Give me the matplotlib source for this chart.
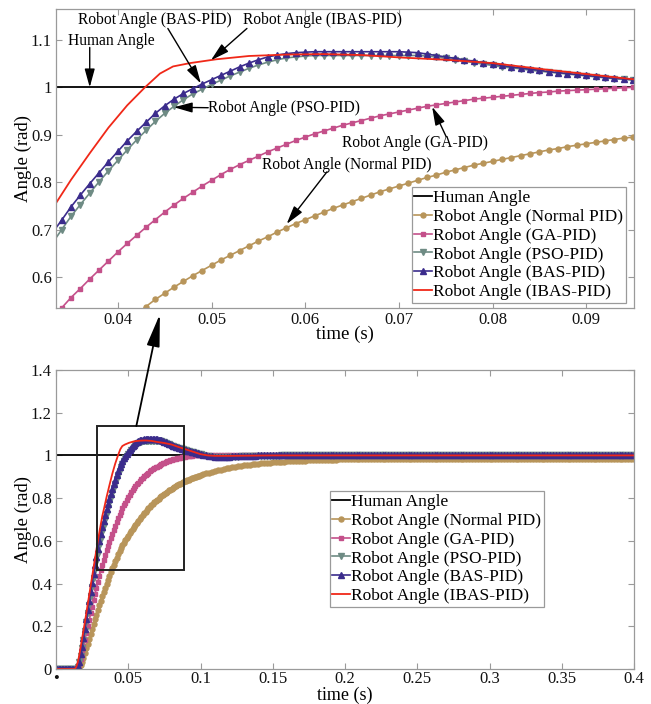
import numpy as np
import matplotlib
matplotlib.use("Agg")
import matplotlib.pyplot as plt
from matplotlib.patches import Rectangle, ConnectionPatch

plt.rcParams['font.family'] = ['Liberation Serif', 'DejaVu Serif']
plt.rcParams['mathtext.fontset'] = 'stix'

# ---------------- data ----------------
# sample grid: 1 ms up to 0.1 s, 2 ms afterwards
time = np.round(np.concatenate([np.arange(0, 101) * 0.001, 0.102 + np.arange(150) * 0.002]), 3)

human_t = [0.0, 0.4]
human_y = [1.0, 1.0]

normal_pid = [
    0, 0, 0, 0, 0, 0, 0, 0, 0, 0,
    0, 0, 0, 0, 0, 0, 0.006, 0.018, 0.034, 0.053,
    0.074, 0.096, 0.119, 0.142, 0.165, 0.188, 0.211, 0.233, 0.255, 0.277,
    0.298, 0.319, 0.340, 0.360, 0.380, 0.399, 0.418, 0.437, 0.455, 0.472,
    0.489, 0.506, 0.522, 0.538, 0.553, 0.566, 0.579, 0.591, 0.603, 0.614,
    0.625, 0.636, 0.646, 0.656, 0.666, 0.676, 0.685, 0.695, 0.704, 0.713,
    0.721, 0.729, 0.737, 0.745, 0.752, 0.759, 0.766, 0.773, 0.780, 0.786,
    0.792, 0.798, 0.804, 0.810, 0.815, 0.821, 0.826, 0.831, 0.836, 0.840,
    0.844, 0.848, 0.852, 0.856, 0.860, 0.864, 0.868, 0.871, 0.875, 0.878,
    0.881, 0.884, 0.887, 0.890, 0.893, 0.895, 0.898, 0.900, 0.903, 0.905,
    0.907,
    0.912, 0.916, 0.920, 0.924, 0.927, 0.931, 0.934, 0.937, 0.940, 0.942,
    0.945, 0.947, 0.949, 0.951, 0.953, 0.955, 0.957, 0.958, 0.960, 0.961,
    0.963, 0.964, 0.965, 0.966, 0.968, 0.969, 0.970, 0.970, 0.971, 0.972,
    0.973, 0.974, 0.974, 0.975, 0.975, 0.976, 0.977, 0.977, 0.978, 0.978,
    0.978, 0.979, 0.979, 0.979, 0.980, 0.980, 0.980, 0.981, 0.981, 0.981,
    0.981, 0.981, 0.982, 0.982, 0.982, 0.982, 0.982, 0.983, 0.983, 0.983,
    0.983, 0.983, 0.983, 0.983, 0.984, 0.984, 0.984, 0.984, 0.984, 0.984,
    0.984, 0.984, 0.984, 0.984, 0.984, 0.984, 0.984, 0.984, 0.984, 0.984,
    0.984, 0.984, 0.984, 0.984, 0.984, 0.984, 0.984, 0.984, 0.984, 0.984,
    0.985, 0.985, 0.985, 0.985, 0.985, 0.985, 0.985, 0.985, 0.985, 0.985,
    0.985, 0.985, 0.985, 0.985, 0.985, 0.985, 0.985, 0.985, 0.985, 0.985,
    0.985, 0.985, 0.985, 0.985, 0.985, 0.985, 0.985, 0.985, 0.985, 0.985,
    0.985, 0.985, 0.985, 0.985, 0.985, 0.985, 0.985, 0.985, 0.985, 0.985,
    0.985, 0.985, 0.985, 0.985, 0.985, 0.985, 0.985, 0.985, 0.985, 0.985,
    0.985, 0.985, 0.985, 0.985, 0.985, 0.985, 0.985, 0.985, 0.985, 0.985,
]

ga_pid = [
    0, 0, 0, 0, 0, 0, 0, 0, 0, 0,
    0, 0, 0, 0, 0, 0.008, 0.025, 0.049, 0.077, 0.107,
    0.138, 0.169, 0.200, 0.231, 0.262, 0.292, 0.322, 0.352, 0.381, 0.409,
    0.437, 0.463, 0.488, 0.512, 0.535, 0.557, 0.576, 0.596, 0.615, 0.634,
    0.653, 0.671, 0.688, 0.705, 0.721, 0.737, 0.752, 0.766, 0.779, 0.792,
    0.804, 0.816, 0.827, 0.837, 0.846, 0.855, 0.864, 0.872, 0.880, 0.888,
    0.895, 0.902, 0.908, 0.914, 0.920, 0.925, 0.930, 0.935, 0.940, 0.944,
    0.948, 0.952, 0.956, 0.960, 0.963, 0.966, 0.969, 0.972, 0.975, 0.977,
    0.979, 0.981, 0.983, 0.985, 0.987, 0.989, 0.990, 0.992, 0.993, 0.994,
    0.995, 0.996, 0.997, 0.998, 0.999, 1.000, 1.001, 1.001, 1.002, 1.002,
    1.003,
    1.003, 1.003, 1.003, 1.003, 1.003, 1.003, 1.003, 1.003, 1.003, 1.003,
    1.003, 1.003, 1.003, 1.003, 1.003, 1.003, 1.003, 1.003, 1.003, 1.003,
    1.003, 1.003, 1.003, 1.003, 1.003, 1.003, 1.003, 1.003, 1.003, 1.003,
    1.003, 1.003, 1.003, 1.003, 1.003, 1.003, 1.003, 1.003, 1.003, 1.003,
    1.003, 1.003, 1.003, 1.003, 1.003, 1.003, 1.003, 1.003, 1.003, 1.003,
    1.002, 1.002, 1.002, 1.002, 1.002, 1.002, 1.002, 1.002, 1.002, 1.002,
    1.002, 1.002, 1.002, 1.002, 1.002, 1.002, 1.002, 1.002, 1.002, 1.002,
    1.002, 1.002, 1.002, 1.002, 1.002, 1.002, 1.002, 1.002, 1.002, 1.002,
    1.002, 1.002, 1.002, 1.002, 1.002, 1.002, 1.002, 1.002, 1.002, 1.002,
    1.002, 1.002, 1.002, 1.002, 1.002, 1.002, 1.002, 1.002, 1.002, 1.002,
    1.002, 1.002, 1.002, 1.002, 1.002, 1.002, 1.002, 1.002, 1.002, 1.002,
    1.002, 1.002, 1.002, 1.002, 1.002, 1.002, 1.002, 1.002, 1.002, 1.002,
    1.002, 1.002, 1.002, 1.002, 1.002, 1.002, 1.002, 1.002, 1.002, 1.002,
    1.002, 1.002, 1.002, 1.002, 1.002, 1.002, 1.002, 1.002, 1.002, 1.002,
    1.002, 1.002, 1.002, 1.002, 1.002, 1.002, 1.002, 1.002, 1.002, 1.002,
]

pso_pid = [
    0, 0, 0, 0, 0, 0, 0, 0, 0, 0,
    0, 0, 0, 0, 0, 0.010, 0.031, 0.061, 0.096, 0.135,
    0.176, 0.218, 0.260, 0.302, 0.344, 0.385, 0.425, 0.464, 0.502, 0.539,
    0.574, 0.608, 0.640, 0.671, 0.700, 0.728, 0.753, 0.777, 0.801, 0.824,
    0.846, 0.868, 0.889, 0.909, 0.928, 0.945, 0.960, 0.974, 0.986, 0.996,
    1.006, 1.015, 1.024, 1.032, 1.040, 1.047, 1.053, 1.058, 1.062, 1.064,
    1.066, 1.067, 1.067, 1.067, 1.067, 1.067, 1.067, 1.067, 1.067, 1.067,
    1.067, 1.067, 1.067, 1.066, 1.064, 1.061, 1.058, 1.055, 1.052, 1.049,
    1.046, 1.043, 1.041, 1.039, 1.036, 1.034, 1.032, 1.030, 1.028, 1.026,
    1.024, 1.022, 1.020, 1.018, 1.017, 1.015, 1.013, 1.011, 1.009, 1.007,
    1.005,
    1.002, 0.999, 0.996, 0.994, 0.992, 0.991, 0.991, 0.991, 0.991, 0.992,
    0.992, 0.993, 0.994, 0.995, 0.995, 0.996, 0.997, 0.997, 0.998, 0.998,
    0.998, 0.999, 0.999, 0.999, 0.999, 0.999, 0.999, 1.0, 1.0, 1.0,
    1.0, 1.0, 1.0, 1.0, 1.0, 1.0, 1.0, 1.0, 1.0, 1.0,
    1.0, 1.0, 1.0, 1.0, 1.0, 1.0, 1.0, 1.0, 1.0, 1.0,
    1.0, 1.0, 1.0, 1.0, 1.0, 1.0, 1.0, 1.0, 1.0, 1.0,
    1.0, 1.0, 1.0, 1.0, 1.0, 1.0, 1.0, 1.0, 1.0, 1.0,
    1.0, 1.0, 1.0, 1.0, 1.0, 1.0, 1.0, 1.0, 1.0, 1.0,
    1.0, 1.0, 1.0, 1.0, 1.0, 1.0, 1.0, 1.0, 1.0, 1.0,
    1.0, 1.0, 1.0, 1.0, 1.0, 1.0, 1.0, 1.0, 1.0, 1.0,
    1.0, 1.0, 1.0, 1.0, 1.0, 1.0, 1.0, 1.0, 1.0, 1.0,
    1.0, 1.0, 1.0, 1.0, 1.0, 1.0, 1.0, 1.0, 1.0, 1.0,
    1.0, 1.0, 1.0, 1.0, 1.0, 1.0, 1.0, 1.0, 1.0, 1.0,
    1.0, 1.0, 1.0, 1.0, 1.0, 1.0, 1.0, 1.0, 1.0, 1.0,
    1.0, 1.0, 1.0, 1.0, 1.0, 1.0, 1.0, 1.0, 1.0, 1.0,
]

bas_pid = [
    0, 0, 0, 0, 0, 0, 0, 0, 0, 0,
    0, 0, 0, 0, 0, 0.012, 0.035, 0.068, 0.105, 0.146,
    0.189, 0.232, 0.275, 0.318, 0.361, 0.403, 0.445, 0.486, 0.525, 0.562,
    0.597, 0.631, 0.663, 0.693, 0.720, 0.748, 0.773, 0.797, 0.820, 0.843,
    0.865, 0.887, 0.907, 0.926, 0.945, 0.961, 0.975, 0.987, 0.997, 1.007,
    1.016, 1.025, 1.034, 1.043, 1.051, 1.058, 1.064, 1.068, 1.071, 1.073,
    1.074, 1.075, 1.075, 1.075, 1.075, 1.075, 1.075, 1.075, 1.075, 1.075,
    1.075, 1.074, 1.073, 1.070, 1.067, 1.064, 1.061, 1.058, 1.055, 1.052,
    1.049, 1.046, 1.043, 1.041, 1.038, 1.036, 1.033, 1.031, 1.029, 1.027,
    1.025, 1.023, 1.021, 1.019, 1.018, 1.016, 1.014, 1.012, 1.010, 1.008,
    1.006,
    1.003, 1.000, 0.997, 0.995, 0.994, 0.993, 0.993, 0.993, 0.994, 0.994,
    0.995, 0.996, 0.996, 0.997, 0.998, 0.998, 0.999, 0.999, 0.999, 1.000,
    1.0, 1.0, 1.0, 1.0, 1.0, 1.0, 1.0, 1.0, 1.0, 1.0,
    1.0, 1.0, 1.0, 1.0, 1.0, 1.0, 1.0, 1.0, 1.0, 1.0,
    1.0, 1.0, 1.0, 1.0, 1.0, 1.0, 1.0, 1.0, 1.0, 1.0,
    1.0, 1.0, 1.0, 1.0, 1.0, 1.0, 1.0, 1.0, 1.0, 1.0,
    1.0, 1.0, 1.0, 1.0, 1.0, 1.0, 1.0, 1.0, 1.0, 1.0,
    1.0, 1.0, 1.0, 1.0, 1.0, 1.0, 1.0, 1.0, 1.0, 1.0,
    1.0, 1.0, 1.0, 1.0, 1.0, 1.0, 1.0, 1.0, 1.0, 1.0,
    1.0, 1.0, 1.0, 1.0, 1.0, 1.0, 1.0, 1.0, 1.0, 1.0,
    1.0, 1.0, 1.0, 1.0, 1.0, 1.0, 1.0, 1.0, 1.0, 1.0,
    1.0, 1.0, 1.0, 1.0, 1.0, 1.0, 1.0, 1.0, 1.0, 1.0,
    1.0, 1.0, 1.0, 1.0, 1.0, 1.0, 1.0, 1.0, 1.0, 1.0,
    1.0, 1.0, 1.0, 1.0, 1.0, 1.0, 1.0, 1.0, 1.0, 1.0,
    1.0, 1.0, 1.0, 1.0, 1.0, 1.0, 1.0, 1.0, 1.0, 1.0,
]

ibas_t = [0, 0.013, 0.014, 0.015, 0.016, 0.017, 0.018, 0.019, 0.020, 0.022,
          0.024, 0.026, 0.028, 0.030, 0.032, 0.0334, 0.035, 0.037, 0.039, 0.041,
          0.0429, 0.0445, 0.0459, 0.0477, 0.0505, 0.054, 0.058, 0.062, 0.066, 0.070,
          0.075, 0.080, 0.085, 0.090, 0.095, 0.100, 0.105, 0.110, 0.120, 0.150, 0.400]
ibas_pid = [0, 0, 0.01, 0.03, 0.06, 0.10, 0.14, 0.18, 0.22, 0.305,
            0.39, 0.475, 0.56, 0.64, 0.715, 0.756, 0.805, 0.861, 0.915, 0.962,
            1.0, 1.029, 1.044, 1.051, 1.059, 1.066, 1.069, 1.070, 1.068, 1.063,
            1.058, 1.051, 1.039, 1.028, 1.017, 1.006, 1.0, 0.998, 0.998, 1.0, 1.0]

labels = ['Human Angle', 'Robot Angle (Normal PID)', 'Robot Angle (GA-PID)',
          'Robot Angle (PSO-PID)', 'Robot Angle (BAS-PID)', 'Robot Angle (IBAS-PID)']

for name, arr in [('normal', normal_pid), ('ga', ga_pid), ('pso', pso_pid), ('bas', bas_pid)]:
    if len(arr) != len(time):
        raise SystemExit(f'{name}: {len(arr)} vs {len(time)}')

# ---------------- style ----------------
c_human = '#000000'
c_normal = '#B8955A'
c_ga = '#C4508A'
c_pso = '#6E8B84'
c_bas = '#3B2C8C'
c_ibas = '#F02818'
spine_c = '#9a9a9a'

W, H = 651, 704
fig = plt.figure(figsize=(W / 100, H / 100), dpi=100)
ax1 = fig.add_axes([56 / W, (H - 308) / H, 578 / W, 299 / H])
ax2 = fig.add_axes([56 / W, (H - 669) / H, 578 / W, 299 / H])


def draw(ax, xpad, xtickpad, xlab_fs):
    ax.plot(human_t, human_y, color=c_human, lw=1.3, label=labels[0])
    ax.plot(time, normal_pid, color=c_normal, lw=1.2, marker='o', ms=3.6, mec=c_normal, label=labels[1])
    ax.plot(time, ga_pid, color=c_ga, lw=1.2, marker='s', ms=3.4, mec=c_ga, label=labels[2])
    ax.plot(time, pso_pid, color=c_pso, lw=1.2, marker='v', ms=4.3, mec=c_pso, label=labels[3])
    ax.plot(time, bas_pid, color=c_bas, lw=1.2, marker='^', ms=4.3, mec=c_bas, label=labels[4])
    ax.plot(ibas_t, ibas_pid, color=c_ibas, lw=1.3, label=labels[5])
    for s in ax.spines.values():
        s.set_color(spine_c)
        s.set_linewidth(0.9)
    ax.tick_params(direction='in', top=True, right=True, length=4, color=spine_c,
                   labelsize=12, pad=3, labelcolor='#111111')
    ax.tick_params(axis='x', pad=xtickpad)
    ax.set_ylabel('Angle (rad)', fontsize=13.5, labelpad=-1)
    ax.set_xlabel('time (s)', fontsize=xlab_fs, labelpad=xpad)


draw(ax1, -2, 3, 13.5)
draw(ax2, -0.3, 1.5, 13)

ax1.set_xlim(0.0334, 0.0951)
ax1.set_ylim(0.535, 1.165)
ax1.set_xticks([0.04, 0.05, 0.06, 0.07, 0.08, 0.09])
ax1.set_xticklabels(['0.04', '0.05', '0.06', '0.07', '0.08', '0.09'])
ax1.set_yticks([0.6, 0.7, 0.8, 0.9, 1.0, 1.1])
ax1.set_yticklabels(['0.6', '0.7', '0.8', '0.9', '1', '1.1'])

ax2.set_xlim(0, 0.4)
ax2.set_ylim(0, 1.4)
ax2.set_xticks([0, 0.05, 0.1, 0.15, 0.2, 0.25, 0.3, 0.35, 0.4])
ax2.set_xticklabels(['\u2022', '0.05', '0.1', '0.15', '0.2', '0.25', '0.3', '0.35', '0.4'])
ax2.set_yticks([0, 0.2, 0.4, 0.6, 0.8, 1.0, 1.2, 1.4])
ax2.set_yticklabels(['0', '0.2', '0.4', '0.6', '0.8', '1', '1.2', '1.4'])

leg_kw = dict(fontsize=12.5, handlelength=1.0, handletextpad=0.1, labelspacing=0.16,
              borderpad=0.15, borderaxespad=0, fancybox=False, framealpha=1,
              edgecolor='#9a9a9a', numpoints=1, loc='lower right')
l1 = ax1.legend(bbox_to_anchor=(626 / W, (H - 303) / H), bbox_transform=fig.transFigure, **leg_kw)
l2 = ax2.legend(bbox_to_anchor=(544 / W, (H - 607) / H), bbox_transform=fig.transFigure, **leg_kw)
for l in (l1, l2):
    l.get_frame().set_linewidth(0.9)

# annotations in zoomed axes
arr_kw = dict(arrowstyle='-|>,head_length=0.8,head_width=0.22', color='k', lw=1.0,
              mutation_scale=14, shrinkA=0, shrinkB=0)
fs_ann = 11.2
ax1.text(0.03466, 1.097, 'Human Angle', fontsize=fs_ann, ha='left', va='center')
ax1.annotate('', xy=(0.0370, 1.0), xytext=(0.0370, 1.084), arrowprops=arr_kw)
ax1.text(0.0439, 1.141, 'Robot Angle (BAS-PID)', fontsize=fs_ann, ha='center', va='center')
ax1.annotate('', xy=(0.04887, 1.008), xytext=(0.04534, 1.124), arrowprops=arr_kw)
ax1.text(0.06179, 1.141, 'Robot Angle (IBAS-PID)', fontsize=fs_ann, ha='center', va='center')
ax1.annotate('', xy=(0.04994, 1.057), xytext=(0.05378, 1.124), arrowprops=arr_kw)
ax1.text(0.04965, 0.956, 'Robot Angle (PSO-PID)', fontsize=fs_ann, ha='left', va='center')
ax1.annotate('', xy=(0.04598, 0.958), xytext=(0.04965, 0.957), arrowprops=arr_kw)
ax1.text(0.07173, 0.882, 'Robot Angle (GA-PID)', fontsize=fs_ann, ha='center', va='center')
ax1.annotate('', xy=(0.07355, 0.959), xytext=(0.07505, 0.896), arrowprops=arr_kw)
ax1.text(0.06443, 0.836, 'Robot Angle (Normal PID)', fontsize=fs_ann, ha='center', va='center')
ax1.annotate('', xy=(0.05802, 0.712), xytext=(0.06233, 0.822), arrowprops=arr_kw)

# zoom box on full view
ax2.add_patch(Rectangle((0.0287, 0.462), 0.0889 - 0.0287, 1.138 - 0.462,
                        fill=False, ec='#222222', lw=1.4, zorder=5))
con = ConnectionPatch(xyA=(0.0556, 1.138), coordsA=ax2.transData,
                      xyB=(0.04449, 0.522), coordsB=ax1.transData,
                      arrowstyle='-|>,head_length=1.1,head_width=0.22', mutation_scale=18,
                      color='k', lw=1.3, shrinkA=0, shrinkB=0)
fig.add_artist(con)

fig.savefig('out.png', dpi=100)
